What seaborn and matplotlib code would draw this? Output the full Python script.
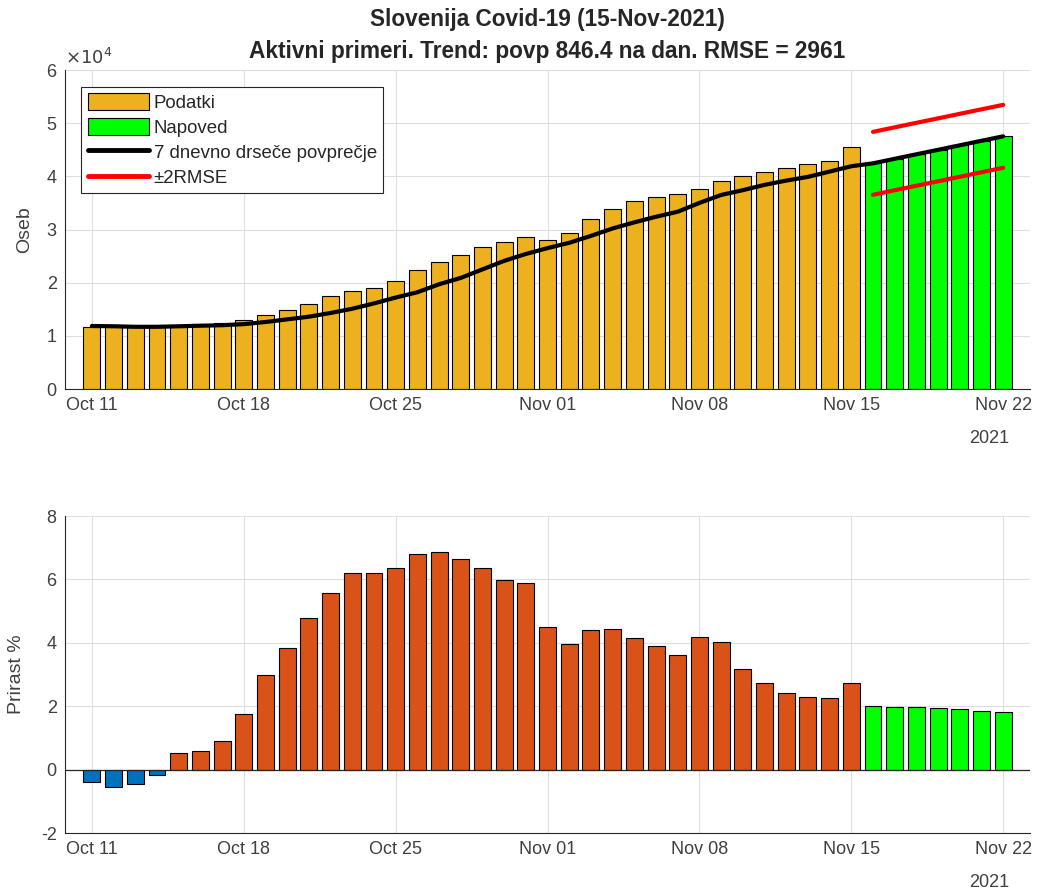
import numpy as np
import pandas as pd
import matplotlib
matplotlib.use('Agg')
import matplotlib.pyplot as plt
import seaborn as sns
from matplotlib.patches import Patch
from matplotlib.lines import Line2D
from matplotlib.ticker import FuncFormatter

# data (Oct 11 .. Nov 15 = data, Nov 16 .. Nov 22 = forecast)
active = [11700, 11800, 11600, 11600, 11800, 12200, 12500, 13000, 13900, 14900,
          16000, 17500, 18500, 19000, 20400, 22300, 23800, 25200, 26650, 27600,
          28500, 28000, 29300, 31900, 33800, 35300, 36100, 36600, 37700, 39100,
          40000, 40900, 41500, 42300, 42800, 45500]
forecast = [42450, 43300, 44150, 44990, 45840, 46690, 47530]
moving_avg = [11850, 11800, 11700, 11700, 11800, 11900, 12000, 12200, 12600, 13100,
              13600, 14300, 15100, 16100, 17200, 18200, 19700, 20900, 22500, 24100,
              25400, 26500, 27500, 28800, 30200, 31350, 32400, 33350, 35000, 36500,
              37400, 38400, 39200, 39900, 40900, 41900]
upper = [48370, 49220, 50070, 50910, 51760, 52610, 53450]
lower = [36530, 37380, 38230, 39070, 39920, 40770, 41610]
growth = [-0.39, -0.54, -0.45, -0.17, 0.52, 0.59, 0.90, 1.75, 2.97, 3.85,
          4.78, 5.56, 6.19, 6.19, 6.35, 6.80, 6.88, 6.63, 6.35, 5.97,
          5.89, 4.50, 3.97, 4.40, 4.45, 4.16, 3.90, 3.63, 4.19, 4.03,
          3.18, 2.74, 2.41, 2.28, 2.25, 2.74]
growth_fc = [2.02, 1.99, 1.97, 1.94, 1.90, 1.84, 1.81]
tick_labels = ['Oct 11', 'Oct 18', 'Oct 25', 'Nov 01', 'Nov 08', 'Nov 15', 'Nov 22']

# colours
c_data = '#EDB120'
c_fc = '#00FF00'
c_pos = '#D95319'
c_neg = '#0072BD'
axcol = '#262626'
labcol = '#404040'
gridcol = '#dedede'

sns.set_style('white')
plt.rcParams['font.family'] = ['Liberation Sans', 'DejaVu Sans']
plt.rcParams['axes.unicode_minus'] = False
plt.rcParams['axes.edgecolor'] = axcol
plt.rcParams['xtick.color'] = labcol
plt.rcParams['ytick.color'] = labcol

n_data = len(active)
n_fc = len(forecast)
days = np.arange(n_data + n_fc)

top = pd.DataFrame({'day': days,
                    'val': active + forecast,
                    'kind': ['data'] * n_data + ['fc'] * n_fc})
ma = pd.DataFrame({'day': days, 'val': moving_avg + forecast})
band = pd.DataFrame({'day': days[n_data:], 'up': upper, 'lo': lower})

g_vals = growth + growth_fc
g_kind = ['neg' if v < 0 else 'pos' for v in growth] + ['fc'] * n_fc
bot = pd.DataFrame({'day': days, 'val': g_vals, 'kind': g_kind})

fig = plt.figure(figsize=(10.4, 8.92), dpi=100)
ax1 = fig.add_axes([0.0625, 0.5639, 0.928, 0.3576])
ax2 = fig.add_axes([0.0625, 0.0661, 0.928, 0.3554])

# top: active cases
sns.barplot(data=top, x='day', y='val', hue='kind', native_scale=True, dodge=False,
            palette={'data': c_data, 'fc': c_fc}, saturation=1, edgecolor='black',
            linewidth=0.8, width=0.78, legend=False, ax=ax1, zorder=2)
sns.lineplot(data=ma, x='day', y='val', color='black', linewidth=3, ax=ax1, zorder=3)
sns.lineplot(data=band, x='day', y='up', color='red', linewidth=3, ax=ax1, zorder=3)
sns.lineplot(data=band, x='day', y='lo', color='red', linewidth=3, ax=ax1, zorder=3)
ax1.set_ylim(0, 60000)
ax1.set_yticks(np.arange(0, 60001, 10000))
ax1.yaxis.set_major_formatter(FuncFormatter(lambda v, p: '%d' % round(v / 1e4)))
ax1.text(0.0, 1.006, r'$\times10^{4}$', transform=ax1.transAxes, fontsize=13,
         color=labcol, ha='left', va='bottom')
ax1.set_ylabel('Oseb', fontsize=14, color=labcol)
ax1.set_title('Slovenija Covid-19 (15-Nov-2021)\nAktivni primeri. Trend: povp 846.4 na dan. RMSE = 2961',
              fontsize=16.3, fontweight='bold', pad=9, linespacing=1.5)

handles = [Patch(facecolor=c_data, edgecolor='black', linewidth=0.8),
           Patch(facecolor=c_fc, edgecolor='black', linewidth=0.8),
           Line2D([], [], color='black', linewidth=3.5),
           Line2D([], [], color='red', linewidth=3.5)]
leg = ax1.legend(handles, ['Podatki', 'Napoved', '7 dnevno drseče povprečje', '±2RMSE'],
                 loc='upper left', bbox_to_anchor=(0.017, 0.948), fontsize=13.4,
                 frameon=True, fancybox=False, edgecolor=axcol, framealpha=1,
                 handlelength=3.3, handleheight=1.05, handletextpad=0.25,
                 borderpad=0.33, labelspacing=0.33, borderaxespad=0)
leg.get_frame().set_linewidth(0.8)

# bottom: growth %
sns.barplot(data=bot, x='day', y='val', hue='kind', native_scale=True, dodge=False,
            palette={'neg': c_neg, 'pos': c_pos, 'fc': c_fc}, saturation=1,
            edgecolor='black', linewidth=0.8, width=0.78, legend=False, ax=ax2, zorder=2)
ax2.axhline(0, color=axcol, linewidth=0.9, zorder=3)
ax2.set_ylim(-2, 8)
ax2.set_yticks(np.arange(-2, 9, 2))
ax2.set_ylabel('Prirast %', fontsize=14, color=labcol)

for ax in (ax1, ax2):
    ax.set_xlim(-1.24, len(days) - 1 + 1.24)
    ax.set_xticks(np.arange(0, len(days), 7))
    ax.set_xticklabels(tick_labels)
    ax.set_xlabel('')
    ax.tick_params(direction='in', length=5, width=0.8, labelsize=13, pad=6)
    ax.grid(True, color=gridcol, linewidth=0.8, zorder=0)
    ax.set_axisbelow(True)
    for s in ('top', 'right'):
        ax.spines[s].set_visible(False)
    for s in ('left', 'bottom'):
        ax.spines[s].set_linewidth(0.8)
    ax.text(len(days) - 1.65, -0.155, '2021', transform=ax.get_xaxis_transform(),
            ha='center', va='center', fontsize=13, color=labcol)

ax1.yaxis.set_label_coords(-0.033, 0.5)
ax2.yaxis.set_label_coords(-0.0415, 0.5)

fig.savefig('out.png', dpi=100)
